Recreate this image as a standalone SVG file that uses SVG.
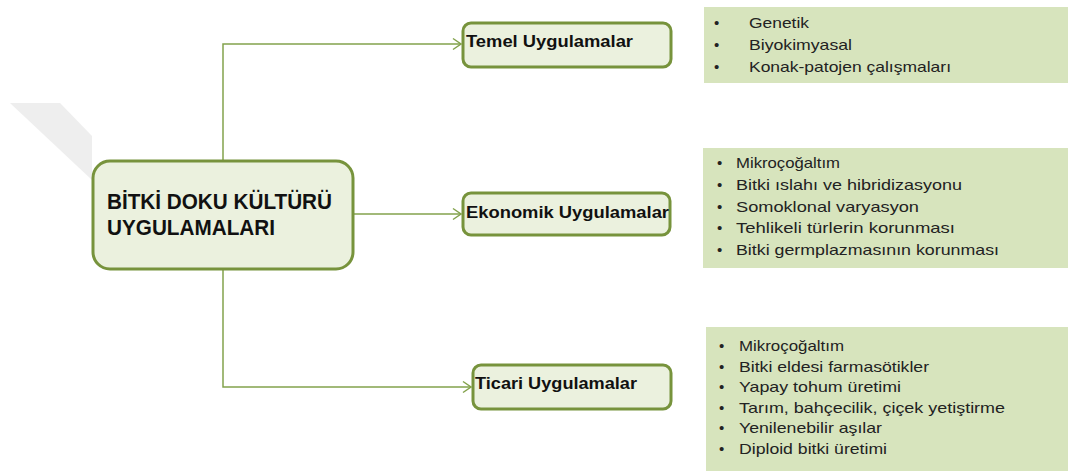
<svg xmlns="http://www.w3.org/2000/svg" width="1070" height="471" viewBox="0 0 1070 471">
<defs>
<marker id="arr" markerUnits="userSpaceOnUse" markerWidth="12" markerHeight="14" refX="10" refY="7" orient="auto">
<path d="M2,1.5 L10,7 L2,12.5" fill="none" stroke="#83A24C" stroke-width="1.5"/>
</marker>
<style>
.box{fill:#EBF1DE;stroke:#77933C;stroke-width:3}
.panel{fill:#D7E4BD}
.conn{fill:none;stroke:#83A24C;stroke-width:1.5}
.t{font-family:"Liberation Sans",Arial,sans-serif;font-weight:bold;fill:#111;font-size:16px}
.main{font-family:"Liberation Sans",Arial,sans-serif;font-weight:bold;fill:#111;font-size:22px}
.li{font-family:"Liberation Sans",Arial,sans-serif;fill:#222;font-size:15px}
</style>
</defs>
<rect width="1070" height="471" fill="#fff"/>
<polygon points="10,103 60,103 92,136 92,180" fill="#EEEEEE"/>

<g id="connectors">
<path class="conn" d="M223,161 V44 H461" marker-end="url(#arr)"/>
<path class="conn" d="M353,214 H461" marker-end="url(#arr)"/>
<path class="conn" d="M223,269 V387 H471" marker-end="url(#arr)"/>
</g>

<g id="root">
<rect class="box" x="93" y="161" width="260" height="108" rx="17"/>
<text class="main" x="107" y="209" textLength="225" lengthAdjust="spacingAndGlyphs">BİTKİ DOKU KÜLTÜRÜ</text>
<text class="main" x="107" y="235" textLength="168" lengthAdjust="spacingAndGlyphs">UYGULAMALARI</text>
</g>

<g id="temel">
<rect class="box" x="463" y="23" width="208" height="44" rx="8"/>
<text class="t" x="466" y="47" textLength="167" lengthAdjust="spacingAndGlyphs">Temel Uygulamalar</text>
</g>

<g id="ekonomik">
<rect class="box" x="463" y="193" width="207" height="42" rx="8"/>
<text class="t" x="466" y="218" textLength="203" lengthAdjust="spacingAndGlyphs">Ekonomik Uygulamalar</text>
</g>

<g id="ticari">
<rect class="box" x="473" y="365" width="198" height="44" rx="8"/>
<text class="t" x="475" y="389" textLength="162" lengthAdjust="spacingAndGlyphs">Ticari Uygulamalar</text>
</g>

<g id="temel-list">
<rect class="panel" x="704" y="7" width="364" height="76"/>
<text class="li" x="714" y="28">•</text>
<text class="li" x="749" y="28" textLength="60" lengthAdjust="spacingAndGlyphs">Genetik</text>
<text class="li" x="714" y="50">•</text>
<text class="li" x="749" y="50" textLength="103" lengthAdjust="spacingAndGlyphs">Biyokimyasal</text>
<text class="li" x="714" y="72">•</text>
<text class="li" x="749" y="72" textLength="202" lengthAdjust="spacingAndGlyphs">Konak-patojen  çalışmaları</text>
</g>

<g id="ekonomik-list">
<rect class="panel" x="703" y="148" width="365" height="120"/>
<text class="li" x="717" y="167.5">•</text>
<text class="li" x="736" y="167.5" textLength="104" lengthAdjust="spacingAndGlyphs">Mikroçoğaltım</text>
<text class="li" x="717" y="189.5">•</text>
<text class="li" x="736" y="189.5" textLength="226" lengthAdjust="spacingAndGlyphs">Bitki ıslahı ve hibridizasyonu</text>
<text class="li" x="717" y="211.5">•</text>
<text class="li" x="736" y="211.5" textLength="183" lengthAdjust="spacingAndGlyphs">Somoklonal  varyasyon</text>
<text class="li" x="717" y="233">•</text>
<text class="li" x="736" y="233" textLength="219" lengthAdjust="spacingAndGlyphs">Tehlikeli  türlerin korunması</text>
<text class="li" x="717" y="255">•</text>
<text class="li" x="736" y="255" textLength="263" lengthAdjust="spacingAndGlyphs">Bitki germplazmasının  korunması</text>
</g>

<g id="ticari-list">
<rect class="panel" x="706" y="327" width="362" height="144"/>
<text class="li" x="719" y="351">•</text>
<text class="li" x="739" y="351" textLength="105" lengthAdjust="spacingAndGlyphs">Mikroçoğaltım</text>
<text class="li" x="719" y="371.5">•</text>
<text class="li" x="739" y="371.5" textLength="190" lengthAdjust="spacingAndGlyphs">Bitki eldesi farmasötikler</text>
<text class="li" x="719" y="392">•</text>
<text class="li" x="739" y="392" textLength="162" lengthAdjust="spacingAndGlyphs">Yapay tohum üretimi</text>
<text class="li" x="719" y="412.5">•</text>
<text class="li" x="739" y="412.5" textLength="266" lengthAdjust="spacingAndGlyphs">Tarım,  bahçecilik, çiçek yetiştirme</text>
<text class="li" x="719" y="433">•</text>
<text class="li" x="739" y="433" textLength="143" lengthAdjust="spacingAndGlyphs">Yenilenebilir aşılar</text>
<text class="li" x="719" y="453.5">•</text>
<text class="li" x="739" y="453.5" textLength="148" lengthAdjust="spacingAndGlyphs">Diploid bitki üretimi</text>
</g>
</svg>
